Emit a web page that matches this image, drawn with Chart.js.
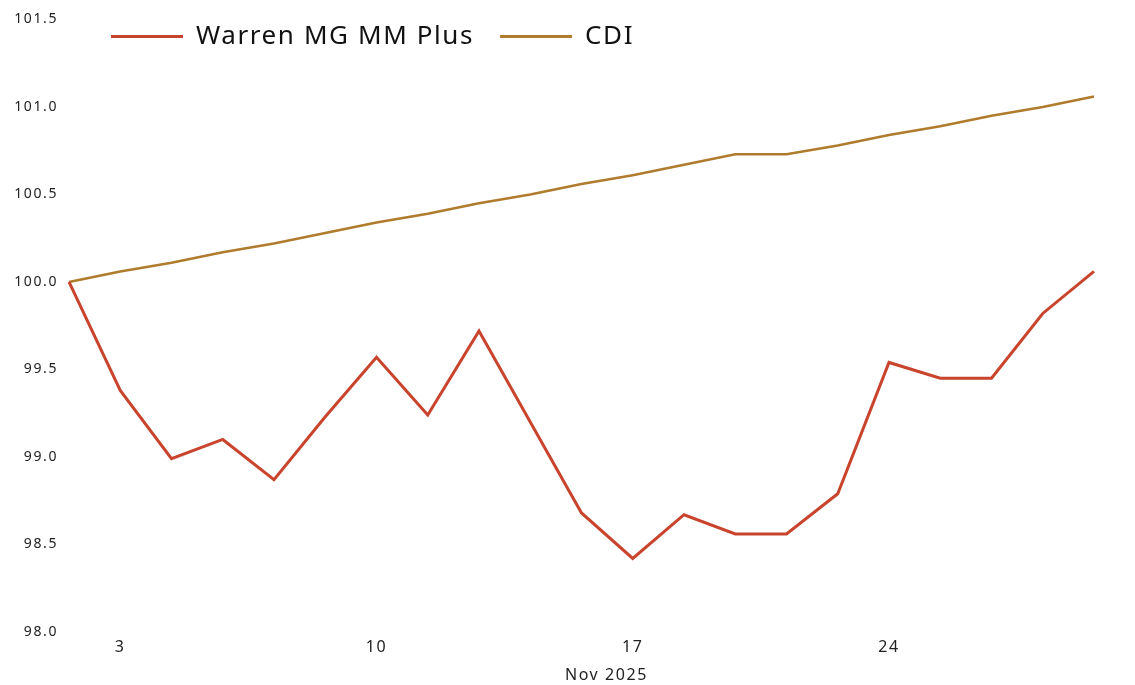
<!DOCTYPE html>
<html>
<head>
<meta charset="utf-8">
<script src="https://cdn.jsdelivr.net/npm/chart.js@4.4.0/dist/chart.umd.min.js"></script>
<style>
  html, body { margin: 0; padding: 0; background: #ffffff; }
  #wrap { width: 1135px; height: 685px; position: relative; }
</style>
</head>
<body>
<div id="wrap"><canvas id="c"></canvas></div>
<script>
// Business days (Brazil), 31 Oct 2025 – 28 Nov 2025
const dates = [
  '2025-10-31',
  '2025-11-03','2025-11-04','2025-11-05','2025-11-06','2025-11-07',
  '2025-11-10','2025-11-11','2025-11-12','2025-11-13','2025-11-14',
  '2025-11-17','2025-11-18','2025-11-19','2025-11-20','2025-11-21',
  '2025-11-24','2025-11-25','2025-11-26','2025-11-27','2025-11-28'
];
const warrenValues = [
  100.00, 99.38, 98.99, 99.10, 98.87, 99.23, 99.57, 99.24, 99.72, 99.20,
  98.68, 98.42, 98.67, 98.56, 98.56, 98.79, 99.54, 99.45, 99.45, 99.82, 100.06
];
const cdiValues = [
  100.00, 100.06, 100.11, 100.17, 100.22, 100.28, 100.34, 100.39, 100.45, 100.50,
  100.56, 100.61, 100.67, 100.73, 100.73, 100.78, 100.84, 100.89, 100.95, 101.00, 101.06
];
const tickDays = ['3', '10', '17', '24'];
const xTitle = 'Nov 2025';
const seriesNames = ['Warren MG MM Plus', 'CDI'];

const RED = '#C8442D';
const GOLD = '#B07B2C';
const FONT = "'Noto Sans', 'Open Sans', sans-serif";
const SPACING = '1.6px';

// wide letter spacing as in the reference
const spacingPlugin = {
  id: 'spacing',
  beforeUpdate(chart) { chart.ctx.letterSpacing = SPACING; },
  beforeLayout(chart) { chart.ctx.letterSpacing = SPACING; },
  beforeDraw(chart) { chart.ctx.letterSpacing = SPACING; }
};

// legend floats over the plot area (takes no layout space); x title nudged right
const legendFloat = {
  id: 'legendFloat',
  beforeLayout(chart) {
    const lg = chart.legend;
    if (lg && !lg._patched) {
      const orig = lg.fit.bind(lg);
      lg.fit = function () { orig(); this.height = 0; };
      lg._patched = true;
    }
  },
  afterLayout(chart) {
    const lg = chart.legend;
    if (lg) {
      const ca = chart.chartArea;
      lg.left = ca.left + 16;
      lg.right = chart.width;
      lg.top = ca.top - 22;
      lg.bottom = lg.top + 90;
      lg.width = lg.right - lg.left;
      lg.height = 90;
    }
    const sx = chart.scales.x;
    if (sx && !sx._titlePatched) {
      const origTitle = sx.drawTitle;
      sx.drawTitle = function () {
        const ctx = this.ctx;
        ctx.save();
        ctx.translate(25, 0);
        origTitle.apply(this, arguments);
        ctx.restore();
      };
      sx._titlePatched = true;
    }
  }
};

new Chart(document.getElementById('c'), {
  type: 'line',
  data: {
    labels: dates,
    datasets: [
      { label: seriesNames[0], data: warrenValues, borderColor: RED, backgroundColor: RED,
        borderWidth: 3, pointRadius: 0, tension: 0, fill: false },
      { label: seriesNames[1], data: cdiValues, borderColor: GOLD, backgroundColor: GOLD,
        borderWidth: 2.5, pointRadius: 0, tension: 0, fill: false }
    ]
  },
  options: {
    responsive: true,
    maintainAspectRatio: false,
    animation: false,
    layout: { padding: { top: 18, right: 41, bottom: 0, left: 0 } },
    plugins: {
      tooltip: { enabled: false },
      legend: {
        position: 'top',
        align: 'start',
        labels: {
          boxWidth: 72,
          boxHeight: 3,
          padding: 26,
          color: '#111111',
          font: { family: FONT, size: 26 },
          generateLabels(chart) {
            const items = Chart.defaults.plugins.legend.labels.generateLabels(chart);
            items.forEach(it => { it.lineWidth = 0; it.fillStyle = it.strokeStyle; });
            return items;
          }
        }
      }
    },
    scales: {
      x: {
        type: 'category',
        offset: false,
        grid: { display: false, drawTicks: false },
        border: { display: false },
        ticks: {
          autoSkip: false,
          maxRotation: 0,
          padding: 6,
          color: '#222222',
          font: { family: FONT, size: 16 },
          callback(value, index) {
            const d = dates[index];
            const day = String(parseInt(d.slice(8), 10));
            return tickDays.includes(day) ? day : '';
          }
        },
        title: {
          display: true,
          text: xTitle,
          color: '#222222',
          font: { family: FONT, size: 16 },
          padding: { top: 8, bottom: 0 }
        },
        afterFit(scale) { scale.height = 53; }
      },
      y: {
        min: 98.0,
        max: 101.5,
        grid: { display: false, drawTicks: false },
        border: { display: false },
        ticks: {
          stepSize: 0.5,
          padding: 11,
          color: '#222222',
          font: { family: FONT, size: 14 },
          callback(v) { return Number(v).toFixed(1); }
        },
        afterFit(scale) { scale.width = 69; }
      }
    }
  },
  plugins: [spacingPlugin, legendFloat]
});
</script>
</body>
</html>
